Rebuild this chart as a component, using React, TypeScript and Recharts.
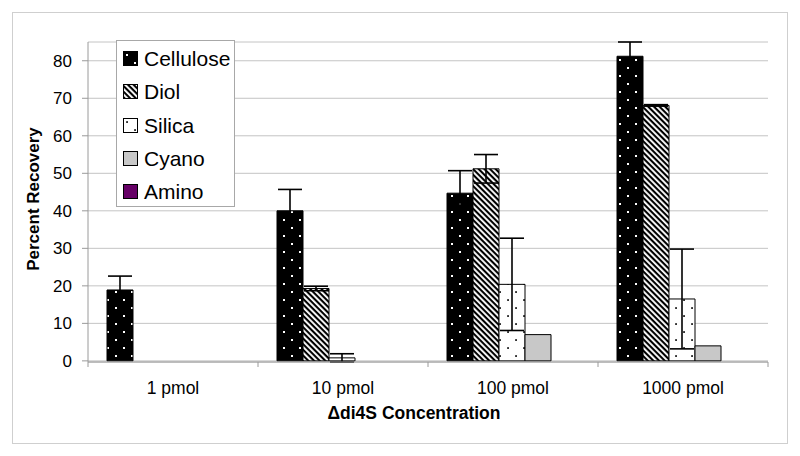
import React from 'react';
import { BarChart, Bar, XAxis, YAxis, CartesianGrid, ErrorBar, Legend, Label } from 'recharts';

const CATEGORIES = ['1 pmol', '10 pmol', '100 pmol', '1000 pmol'];
const CELLULOSE = [18.9, 40.0, 44.7, 81.2];
const CELLULOSE_ERR = [3.7, 5.7, 6.0, 3.8];
const DIOL = [0, 19.3, 51.2, 68.1];
const DIOL_ERR = [0.05, 0.6, 3.8, 0.2];
const SILICA = [0, 0.8, 20.4, 16.5];
const SILICA_ERR = [0.05, 1.1, 12.3, 13.3];
const CYANO = [0, 0, 7.0, 4.0];
const CYANO_ERR: (number | null)[] = [0.05, 0.05, null, null];
const AMINO = [0, 0, 0, 0];
const Y_TICKS = [0, 10, 20, 30, 40, 50, 60, 70, 80];
const Y_TITLE = 'Percent Recovery';
const X_TITLE = '\u0394di4S Concentration';

const SERIES = [
  { name: 'Cellulose', fill: 'url(#pCell)' },
  { name: 'Diol', fill: 'url(#pDiol)' },
  { name: 'Silica', fill: 'url(#pSil)' },
  { name: 'Cyano', fill: '#c8c8c8' },
  { name: 'Amino', fill: '#660066' },
];

const data = CATEGORIES.map((category, i) => ({
  category,
  Cellulose: CELLULOSE[i],
  CelluloseErr: CELLULOSE_ERR[i],
  Diol: DIOL[i],
  DiolErr: DIOL_ERR[i],
  Silica: SILICA[i],
  SilicaErr: SILICA_ERR[i],
  Cyano: CYANO[i],
  CyanoErr: CYANO_ERR[i],
  Amino: AMINO[i],
}));

const FONT = '"Liberation Sans", Arial, sans-serif';
const AXIS_COLOR = '#9a9a9a';

const XTick = (props: any) => {
  const { x, y, payload, index, visibleTicksCount, width } = props;
  const half =
    payload && typeof payload.offset === 'number' && payload.offset > 0
      ? payload.offset
      : width / visibleTicksCount / 2;
  return (
    <g>
      <line x1={x - half} x2={x - half} y1={y} y2={y + 5} stroke={AXIS_COLOR} strokeWidth={1} />
      {index === visibleTicksCount - 1 && (
        <line x1={x + half} x2={x + half} y1={y} y2={y + 5} stroke={AXIS_COLOR} strokeWidth={1} />
      )}
      <text x={x} y={y + 32} textAnchor="middle" fontSize={17.5} fontFamily={FONT} fill="#000">
        {payload.value}
      </text>
    </g>
  );
};

const renderLegend = () => (
  <div
    style={{
      boxSizing: 'border-box',
      width: 119,
      height: 167,
      border: '1px solid #a8a8a8',
      background: '#fff',
      paddingTop: 1,
    }}
  >
    {SERIES.map((s) => (
      <div
        key={s.name}
        style={{ height: 33.3, display: 'flex', alignItems: 'center', paddingLeft: 6 }}
      >
        <svg width={15} height={15} style={{ display: 'block' }}>
          <rect x={0.5} y={0.5} width={14} height={14} fill={s.fill} stroke="#000" strokeWidth={1} />
        </svg>
        <span
          style={{
            marginLeft: 6,
            fontFamily: FONT,
            fontSize: 21,
            color: '#000',
            lineHeight: 1,
          }}
        >
          {s.name}
        </span>
      </div>
    ))}
  </div>
);

export default function App() {
  return (
    <div style={{ position: 'absolute', left: 0, top: 0, width: 800, height: 456, background: '#fff' }}>
      <div
        style={{
          position: 'absolute',
          left: 12,
          top: 12,
          width: 776,
          height: 432,
          boxSizing: 'border-box',
          border: '1.5px solid #cfcfcf',
        }}
      />
      <div style={{ position: 'absolute', left: 0, top: 0 }}>
        <BarChart
          width={800}
          height={456}
          data={data}
          margin={{ top: 42, right: 32, bottom: 30, left: 28 }}
          barCategoryGap={19}
          barGap={0}
        >
          <defs>
            <pattern id="pCell" patternUnits="userSpaceOnUse" width={16} height={16}>
              <rect width={16} height={16} fill="#000" />
              <rect x={3} y={3} width={2} height={2} fill="#fff" />
              <rect x={11} y={11} width={2} height={2} fill="#fff" />
            </pattern>
            <pattern id="pSil" patternUnits="userSpaceOnUse" width={16} height={16}>
              <rect width={16} height={16} fill="#fff" />
              <rect x={3.2} y={3.2} width={1.7} height={1.7} fill="#000" />
              <rect x={11.2} y={11.2} width={1.7} height={1.7} fill="#000" />
            </pattern>
            <pattern
              id="pDiol"
              patternUnits="userSpaceOnUse"
              width={4}
              height={4}
              patternTransform="rotate(45)"
            >
              <rect width={4} height={4} fill="#fff" />
              <rect width={4} height={2.1} fill="#000" />
            </pattern>
          </defs>
          <CartesianGrid vertical={false} stroke="#c4c4c4" strokeWidth={1} />
          <XAxis
            dataKey="category"
            height={64}
            tickSize={0}
            tickMargin={0}
            tickLine={false}
            axisLine={{ stroke: AXIS_COLOR, strokeWidth: 1 }}
            tick={<XTick />}
            interval={0}
          >
            <Label
              content={(p: any) => {
                const vb = p.viewBox;
                return (
                  <text
                    x={vb.x + vb.width / 2 - 14}
                    y={vb.y + 57}
                    textAnchor="middle"
                    fontSize={17.5}
                    fontWeight="bold"
                    fontFamily={FONT}
                    fill="#000"
                  >
                    {X_TITLE}
                  </text>
                );
              }}
            />
          </XAxis>
          <YAxis
            width={60}
            domain={[0, 85]}
            ticks={Y_TICKS}
            interval={0}
            tickSize={6}
            tickMargin={10}
            tickLine={{ stroke: AXIS_COLOR }}
            axisLine={{ stroke: AXIS_COLOR, strokeWidth: 1 }}
            tick={{ fontSize: 17, fill: '#000', fontFamily: FONT }}
          >
            <Label
              content={(p: any) => {
                const vb = p.viewBox;
                const cx = vb.x + 5;
                const cy = vb.y + vb.height / 2 - 3;
                return (
                  <text
                    x={cx}
                    y={cy}
                    transform={`rotate(-90 ${cx} ${cy})`}
                    textAnchor="middle"
                    dominantBaseline="central"
                    fontSize={17}
                    fontWeight="bold"
                    fontFamily={FONT}
                    fill="#000"
                  >
                    {Y_TITLE}
                  </text>
                );
              }}
            />
          </YAxis>
          <Legend
            layout="horizontal"
            align="center"
            verticalAlign="middle"
            wrapperStyle={{ left: 116, top: 40, width: 119, height: 167 }}
            content={renderLegend}
          />
          <Bar dataKey="Cellulose" name="Cellulose" fill={SERIES[0].fill} stroke="#000" strokeWidth={1} isAnimationActive={false}>
            <ErrorBar dataKey="CelluloseErr" width={12} stroke="#000" strokeWidth={1.6} direction="y" />
          </Bar>
          <Bar dataKey="Diol" name="Diol" fill={SERIES[1].fill} stroke="#000" strokeWidth={1} isAnimationActive={false}>
            <ErrorBar dataKey="DiolErr" width={12} stroke="#000" strokeWidth={1.6} direction="y" />
          </Bar>
          <Bar dataKey="Silica" name="Silica" fill={SERIES[2].fill} stroke="#000" strokeWidth={1} isAnimationActive={false}>
            <ErrorBar dataKey="SilicaErr" width={12} stroke="#000" strokeWidth={1.6} direction="y" />
          </Bar>
          <Bar dataKey="Cyano" name="Cyano" fill={SERIES[3].fill} stroke="#000" strokeWidth={1} isAnimationActive={false}>
            <ErrorBar dataKey="CyanoErr" width={12} stroke="#000" strokeWidth={1.6} direction="y" />
          </Bar>
          <Bar dataKey="Amino" name="Amino" fill={SERIES[4].fill} stroke="#000" strokeWidth={1} isAnimationActive={false} />
        </BarChart>
      </div>
    </div>
  );
}
